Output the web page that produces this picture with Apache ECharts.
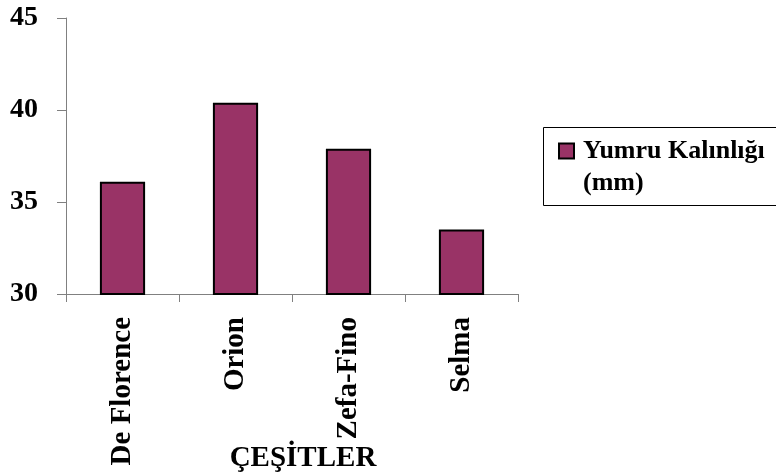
<!DOCTYPE html>
<html>
<head>
<meta charset="utf-8">
<script src="https://cdn.jsdelivr.net/npm/echarts@6/dist/echarts.min.js"></script>
<style>
  html, body { margin: 0; padding: 0; background: #fff; }
  #chart { width: 776px; height: 476px; }
</style>
</head>
<body>
<div id="chart"></div>
<script>
// Varieties and their tuber thickness (mm)
const categories = ['De Florence', 'Orion', 'Zefa-Fino', 'Selma'];
const thickness = [36.1, 40.4, 37.9, 33.5];
const seriesName = 'Yumru Kalınlığı\n(mm)';
const xAxisTitle = 'ÇEŞİTLER';
const yMin = 30, yMax = 45, yStep = 5;

const serif = '"Liberation Serif", "Times New Roman", serif';
const chart = echarts.init(document.getElementById('chart'));

// square swatch sitting at the top of a taller icon box, so it lines up
// with the first line of the two-line legend label
const swatchIcon = 'path://M0,0H15V15H0Z M0,47';

chart.setOption({
  animation: false,
  backgroundColor: '#ffffff',
  grid: {
    left: 66, right: 258, top: 18, bottom: 182,
    containLabel: false,
    outerBoundsMode: 'none'
  },
  // frame around the legend, which runs past the right edge
  graphic: [{
    type: 'rect',
    left: 541,
    top: 125,
    shape: { width: 300, height: 78 },
    style: { fill: 'none', stroke: '#000', lineWidth: 1 },
    silent: true
  }],
  legend: {
    left: 558,
    top: 135,
    orient: 'vertical',
    data: [{ name: seriesName, icon: swatchIcon }],
    itemWidth: 15,
    itemHeight: 47,
    padding: 0,
    textStyle: {
      fontFamily: serif,
      fontWeight: 'bold',
      fontSize: 26,
      color: '#000',
      lineHeight: 32,
      padding: [0, 0, 0, 4]
    }
  },
  xAxis: {
    type: 'category',
    data: categories,
    name: xAxisTitle,
    nameLocation: 'middle',
    nameGap: 150,
    nameMoveOverlap: false,
    nameTextStyle: {
      fontFamily: serif, fontWeight: 'bold', fontSize: 29, color: '#000',
      padding: [0, 0, 0, 22]
    },
    axisLine: { lineStyle: { color: '#808080', width: 1 } },
    axisTick: { show: true, length: 8, lineStyle: { color: '#808080' } },
    axisLabel: {
      rotate: 90,
      margin: 23,
      fontFamily: serif,
      fontWeight: 'bold',
      fontSize: 29,
      color: '#000',
      interval: 0
    }
  },
  yAxis: {
    type: 'value',
    min: yMin,
    max: yMax,
    interval: yStep,
    splitLine: { show: false },
    axisLine: { show: true, lineStyle: { color: '#808080', width: 1 } },
    axisTick: { show: true, length: 9, lineStyle: { color: '#808080' } },
    axisLabel: {
      margin: 28,
      fontFamily: serif,
      fontWeight: 'bold',
      fontSize: 28,
      color: '#000'
    }
  },
  series: [{
    name: seriesName,
    type: 'bar',
    data: thickness,
    barWidth: '40%',
    itemStyle: { color: '#993366', borderColor: '#000', borderWidth: 2 }
  }]
});
</script>
</body>
</html>
